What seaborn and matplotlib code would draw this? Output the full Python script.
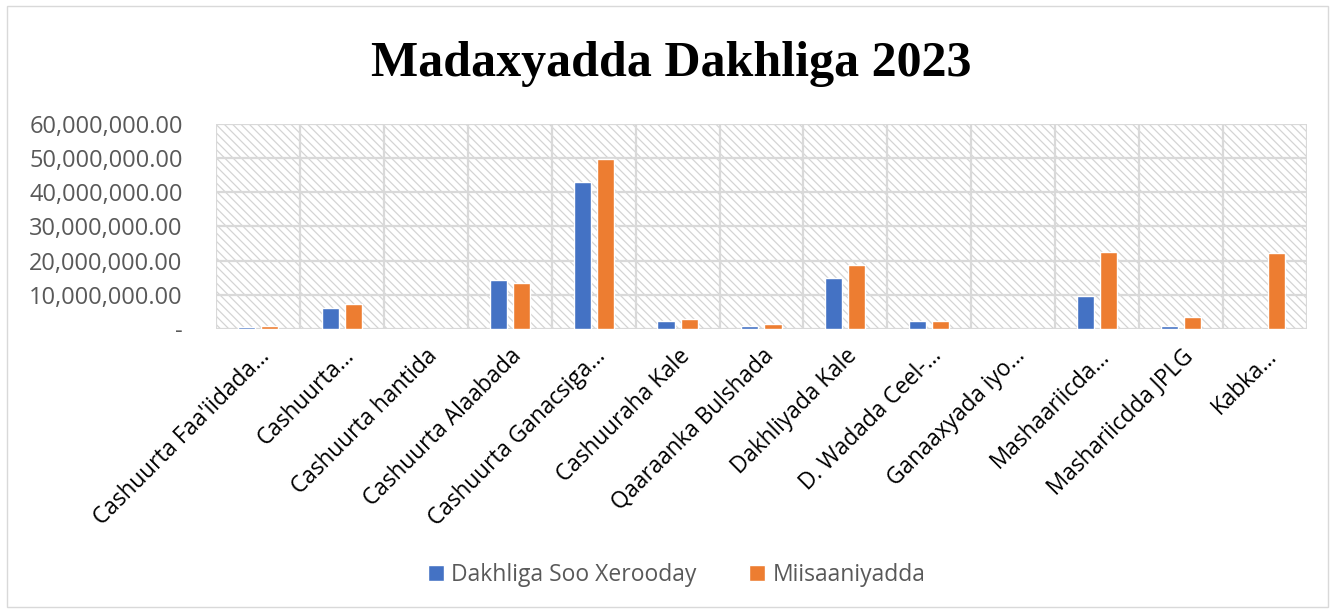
import pandas as pd
import matplotlib
matplotlib.use("Agg")
import matplotlib.pyplot as plt
import seaborn as sns
from matplotlib.patches import Rectangle
from matplotlib.ticker import FuncFormatter, FixedLocator

# Categories and values
categories = [
    "Cashuurta Faa'iidada…", "Cashuurta…", "Cashuurta hantida", "Cashuurta Alaabada",
    "Cashuurta Ganacsiga…", "Cashuuraha Kale", "Qaaraanka Bulshada", "Dakhliyada Kale",
    "D. Wadada Ceel-…", "Ganaaxyada iyo…", "Mashaariicda…", "Mashariicdda JPLG", "Kabka…",
]
dakhliga = [700000, 6100000, 0, 14200000, 43100000, 2200000, 1000000,
            15000000, 2200000, 0, 9500000, 1000000, 0]
miisaaniyadda = [800000, 7300000, 0, 13500000, 49700000, 2900000, 1400000,
                 18600000, 2400000, 0, 22500000, 3500000, 22200000]
series_names = ["Dakhliga Soo Xerooday", "Miisaaniyadda"]
yticks = [0, 10000000, 20000000, 30000000, 40000000, 50000000, 60000000]

df = pd.DataFrame({
    "Category": categories * 2,
    "Value": dakhliga + miisaaniyadda,
    "Series": [series_names[0]] * len(categories) + [series_names[1]] * len(categories),
})

sns.set_style("white")
plt.rcParams["font.family"] = ["Open Sans", "DejaVu Sans"]
plt.rcParams["hatch.linewidth"] = 0.9

fig = plt.figure(figsize=(13.35, 6.1), dpi=100)
ax = fig.add_axes([0.1618, 0.4607, 0.8172, 0.3363])

# hatched plot area like the Excel pattern fill
ax.patch.set_facecolor("white")
ax.patch.set_hatch("\\\\\\\\")
ax.patch.set_edgecolor("#d4d4d4")

sns.barplot(data=df, x="Category", y="Value", hue="Series",
            palette={series_names[0]: "#4472C4", series_names[1]: "#ED7D31"},
            width=0.55, gap=0.26, ax=ax, saturation=1, errorbar=None)

ax.set_ylim(0, 60000000)
ax.set_xlim(-0.5, len(categories) - 0.5)
ax.set_yticks(yticks)
ax.yaxis.set_major_formatter(FuncFormatter(lambda v, p: "-" if v == 0 else f"{v:,.2f}"))
ax.xaxis.set_minor_locator(FixedLocator([i - 0.5 for i in range(len(categories) + 1)]))

ax.set_axisbelow(True)
ax.grid(axis="y", which="major", color="#d9d9d9", linewidth=1.6)
ax.grid(axis="x", which="minor", color="#d9d9d9", linewidth=1.6)
for s in ax.spines.values():
    s.set_visible(False)

ax.tick_params(axis="y", length=0, pad=24, labelsize=17, labelcolor="#595959")
ax.tick_params(axis="x", which="both", length=0, pad=11)
ax.set_xlabel("")
ax.set_ylabel("")
ax.set_xticks(range(len(categories)))
ax.set_xticklabels(categories, rotation=45, ha="right", rotation_mode="anchor",
                   fontsize=16.3, color="black")

# legend at the bottom centre
handles, labels = ax.get_legend_handles_labels()
ax.get_legend().remove()
fig.legend(handles, labels, loc="center", bbox_to_anchor=(0.507, 0.057), ncol=2,
           frameon=False, handlelength=0.7, handleheight=0.7, handletextpad=0.3,
           columnspacing=2.3, prop={"size": 16.5}, labelcolor="#595959")

fig.text(0.503, 0.895, "Madaxyadda Dakhliga 2023", ha="center", va="center",
         fontsize=36, fontweight="bold", color="black",
         family=["Liberation Serif", "DejaVu Serif"])

# thin chart border
fig.patches.append(Rectangle((0.005, 0.005), 0.99, 0.985, transform=fig.transFigure,
                             fill=False, edgecolor="#d9d9d9", linewidth=1))

fig.savefig("out.png", dpi=100)
